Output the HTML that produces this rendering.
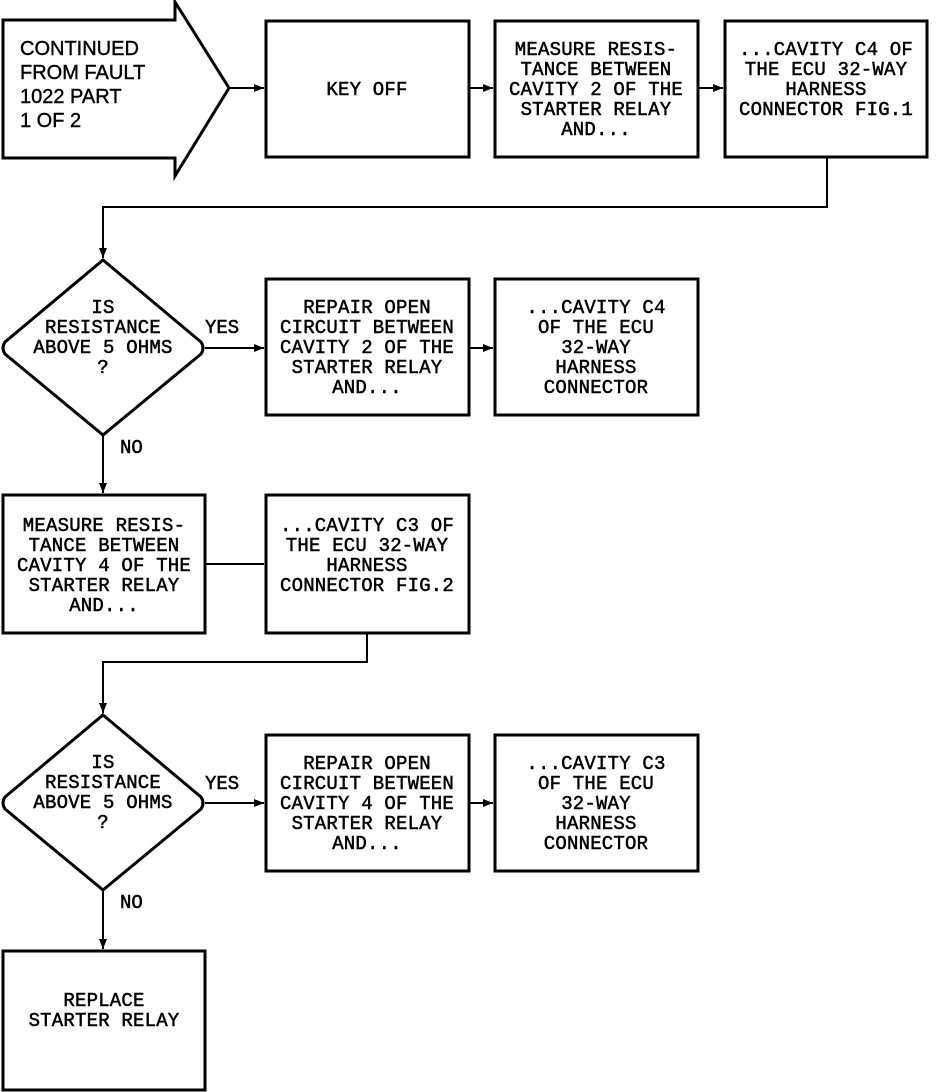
<!DOCTYPE html>
<html><head><style>html,body{margin:0;padding:0;background:#fff}svg{display:block}</style></head><body>
<svg width="944" height="1092" viewBox="0 0 944 1092" xmlns="http://www.w3.org/2000/svg">
<defs><marker id="a" markerWidth="10" markerHeight="8" refX="10" refY="4" orient="auto" markerUnits="userSpaceOnUse"><path d="M0,0 L10,4 L0,8 z" fill="#000"/></marker></defs>
<g fill="none" stroke="#000" stroke-width="3">
<path d="M3,20 L175,20 L175,2 L229,88 L175,176 L175,158 L3,158 Z"/>
<rect x="266" y="21" width="203" height="136"/>
<rect x="495" y="21" width="203" height="136"/>
<rect x="725" y="21" width="202" height="136"/>
<path d="M103,260 L201,342 Q205,348 201,354 L103,435 L5,354 Q1,348 5,342 Z"/>
<rect x="266" y="279" width="203" height="136"/>
<rect x="495" y="279" width="203" height="136"/>
<rect x="3" y="495" width="202" height="138"/>
<rect x="266" y="495" width="203" height="138"/>
<path d="M103,715 L201,797 Q205,803 201,809 L103,890 L5,809 Q1,803 5,797 Z"/>
<rect x="266" y="735" width="203" height="136"/>
<rect x="495" y="735" width="203" height="136"/>
<rect x="3" y="951" width="202" height="139"/>
</g>
<g fill="none" stroke="#000" stroke-width="2">
<path d="M229,88 L264,88" marker-end="url(#a)"/>
<path d="M469,88 L493,88" marker-end="url(#a)"/>
<path d="M698,88 L723,88" marker-end="url(#a)"/>
<path d="M827,157 L827,207 L103,207 L103,258" marker-end="url(#a)"/>
<path d="M205,348 L264,348" marker-end="url(#a)"/>
<path d="M469,348 L493,348" marker-end="url(#a)"/>
<path d="M103,435 L103,493" marker-end="url(#a)"/>
<path d="M205,564 L264,564"/>
<path d="M367,633 L367,662 L103,662 L103,713" marker-end="url(#a)"/>
<path d="M205,803 L264,803" marker-end="url(#a)"/>
<path d="M469,803 L493,803" marker-end="url(#a)"/>
<path d="M103,890 L103,949" marker-end="url(#a)"/>
</g>
<g font-family="Liberation Sans, sans-serif" font-size="20" fill="#000" stroke="#000" stroke-width="0.4">
<text x="20" y="55">CONTINUED</text><text x="20" y="79">FROM FAULT</text><text x="20" y="103">1022 PART</text><text x="20" y="127">1 OF 2</text>
</g>
<g font-family="Liberation Mono, monospace" font-size="19" fill="#000" stroke="#000" stroke-width="0.5" text-anchor="middle" letter-spacing="0.2">
<text x="367" y="95">KEY OFF</text>
<text x="596" y="55">MEASURE RESIS-</text><text x="596" y="75">TANCE BETWEEN</text><text x="596" y="95">CAVITY 2 OF THE</text><text x="596" y="115">STARTER RELAY</text><text x="596" y="135">AND...</text>
<text x="826" y="55">...CAVITY C4 OF</text><text x="826" y="75">THE ECU 32-WAY</text><text x="826" y="95">HARNESS</text><text x="826" y="115">CONNECTOR FIG.1</text>
<text x="103" y="313">IS</text><text x="103" y="333">RESISTANCE</text><text x="103" y="353">ABOVE 5 OHMS</text><text x="103" y="373">?</text>
<text x="367" y="313">REPAIR OPEN</text><text x="367" y="333">CIRCUIT BETWEEN</text><text x="367" y="353">CAVITY 2 OF THE</text><text x="367" y="373">STARTER RELAY</text><text x="367" y="393">AND...</text>
<text x="596" y="313">...CAVITY C4</text><text x="596" y="333">OF THE ECU</text><text x="596" y="353">32-WAY</text><text x="596" y="373">HARNESS</text><text x="596" y="393">CONNECTOR</text>
<text x="104" y="531">MEASURE RESIS-</text><text x="104" y="551">TANCE BETWEEN</text><text x="104" y="571">CAVITY 4 OF THE</text><text x="104" y="591">STARTER RELAY</text><text x="104" y="611">AND...</text>
<text x="367" y="531">...CAVITY C3 OF</text><text x="367" y="551">THE ECU 32-WAY</text><text x="367" y="571">HARNESS</text><text x="367" y="591">CONNECTOR FIG.2</text>
<text x="103" y="768">IS</text><text x="103" y="788">RESISTANCE</text><text x="103" y="808">ABOVE 5 OHMS</text><text x="103" y="828">?</text>
<text x="367" y="769">REPAIR OPEN</text><text x="367" y="789">CIRCUIT BETWEEN</text><text x="367" y="809">CAVITY 4 OF THE</text><text x="367" y="829">STARTER RELAY</text><text x="367" y="849">AND...</text>
<text x="596" y="769">...CAVITY C3</text><text x="596" y="789">OF THE ECU</text><text x="596" y="809">32-WAY</text><text x="596" y="829">HARNESS</text><text x="596" y="849">CONNECTOR</text>
<text x="104" y="1006">REPLACE</text><text x="104" y="1026">STARTER RELAY</text>
</g>
<g font-family="Liberation Mono, monospace" font-size="19" fill="#000" stroke="#000" stroke-width="0.5">
<text x="205" y="333">YES</text><text x="120" y="453">NO</text>
<text x="205" y="789">YES</text><text x="120" y="908">NO</text>
</g>
</svg>
</body></html>
